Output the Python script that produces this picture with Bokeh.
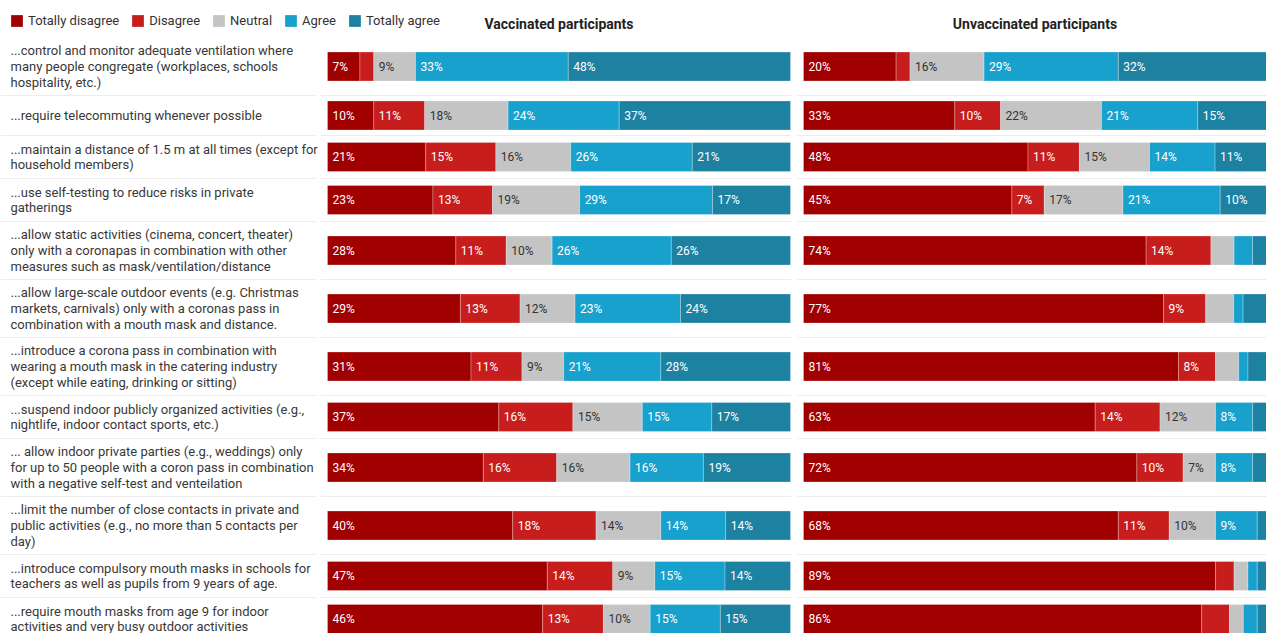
from bokeh.plotting import figure
from bokeh.models import ColumnDataSource, Range1d, Legend, LegendItem
from bokeh.core.properties import value
from bokeh.embed import file_html
from bokeh.resources import INLINE

# ---------------- data ----------------
labels = [
    "...control and monitor adequate ventilation where\nmany people congregate (workplaces, schools\nhospitality, etc.)",
    "...require telecommuting whenever possible",
    "...maintain a distance of 1.5 m at all times (except for\nhousehold members)",
    "...use self-testing to reduce risks in private\ngatherings",
    "...allow static activities (cinema, concert, theater)\nonly with a coronapas in combination with other\nmeasures such as mask/ventilation/distance",
    "...allow large-scale outdoor events (e.g. Christmas\nmarkets, carnivals) only with a coronas pass in\ncombination with a mouth mask and distance.",
    "...introduce a corona pass in combination with\nwearing a mouth mask in the catering industry\n(except while eating, drinking or sitting)",
    "...suspend indoor publicly organized activities (e.g.,\nnightlife, indoor contact sports, etc.)",
    "... allow indoor private parties (e.g., weddings) only\nfor up to 50 people with a coron pass in combination\nwith a negative self-test and venteilation",
    "...limit the number of close contacts in private and\npublic activities (e.g., no more than 5 contacts per\nday)",
    "...introduce compulsory mouth masks in schools for\nteachers as well as pupils from 9 years of age.",
    "...require mouth masks from age 9 for indoor\nactivities and very busy outdoor activities",
]
categories = ["Totally disagree", "Disagree", "Neutral", "Agree", "Totally agree"]
panels = ["Vaccinated participants", "Unvaccinated participants"]

vacc_totally_disagree = [7, 10, 21, 23, 28, 29, 31, 37, 34, 40, 47, 46]
vacc_disagree         = [3, 11, 15, 13, 11, 13, 11, 16, 16, 18, 14, 13]
vacc_neutral          = [9, 18, 16, 19, 10, 12, 9, 15, 16, 14, 9, 10]
vacc_agree            = [33, 24, 26, 29, 26, 23, 21, 15, 16, 14, 15, 15]
vacc_totally_agree    = [48, 37, 21, 17, 26, 24, 28, 17, 19, 14, 14, 15]

unvacc_totally_disagree = [20, 33, 48, 45, 74, 77, 81, 63, 72, 68, 89, 86]
unvacc_disagree         = [3, 10, 11, 7, 14, 9, 8, 14, 10, 11, 4, 6]
unvacc_neutral          = [16, 22, 15, 17, 5, 6, 5, 12, 7, 10, 3, 3]
unvacc_agree            = [29, 21, 14, 21, 4, 2, 2, 8, 8, 9, 2, 3]
unvacc_totally_agree    = [32, 15, 11, 10, 3, 5, 4, 3, 3, 2, 2, 2]

panel_values = [
    [vacc_totally_disagree, vacc_disagree, vacc_neutral, vacc_agree, vacc_totally_agree],
    [unvacc_totally_disagree, unvacc_disagree, unvacc_neutral, unvacc_agree, unvacc_totally_agree],
]

# ---------------- style / layout ----------------
colors = ["#a00000", "#c71e1d", "#c4c4c4", "#18a1cd", "#1d81a2"]
value_text_colors = ["#ffffff", "#ffffff", "#333333", "#ffffff", "#ffffff"]
FONT = "Roboto"
W, H = 1266, 633
LABEL_PX = 327
PANEL_PX = 463
GAP_PX = 13
BAR_H = 29
ROW_TOP = 37
MIN_LABEL_PCT = 7

ppu = PANEL_PX / 100.0
x_start = -LABEL_PX / ppu
x_end = (W - LABEL_PX) / ppu
panel_offset = (PANEL_PX + GAP_PX) / ppu

# row geometry from the number of label lines
n_lines = [lab.count("\n") + 1 for lab in labels]
row_h = [max(40, 15 * n + 13) for n in n_lines]
centers, bounds = [], []
top = ROW_TOP
for h in row_h:
    centers.append(top + h / 2.0)
    top += h
    bounds.append(top)
bounds = bounds[:-1]

p = figure(width=W, height=H, x_range=Range1d(x_start, x_end), y_range=Range1d(H, 0),
           output_backend="svg", toolbar_location=None, min_border=0,
           x_axis_location=None, y_axis_location=None)
p.grid.visible = False
p.outline_line_color = None
p.background_fill_color = "white"

# separators
for (xa, xb) in [(x_start, x_start + 316 / ppu),
                 (-6 / ppu, 100),
                 (panel_offset - 6 / ppu, panel_offset + 100)]:
    p.segment(x0=[xa] * len(bounds), x1=[xb] * len(bounds), y0=bounds, y1=bounds,
              line_color="#d9d9d9", line_width=1, line_dash="1 1")

# bars
renderers = []
txt = dict(x=[], y=[], text=[], color=[])
for ci, cat in enumerate(categories):
    d = dict(left=[], right=[], y=[])
    for pi in range(len(panels)):
        vals = panel_values[pi]
        for ri in range(len(labels)):
            total = sum(vals[k][ri] for k in range(len(categories)))
            before = sum(vals[k][ri] for k in range(ci))
            left = panel_offset * pi + before / total * 100
            right = panel_offset * pi + (before + vals[ci][ri]) / total * 100
            d["left"].append(left)
            d["right"].append(right)
            d["y"].append(centers[ri])
            if vals[ci][ri] >= MIN_LABEL_PCT:
                txt["x"].append(left)
                txt["y"].append(centers[ri])
                txt["text"].append(f"{vals[ci][ri]}%")
                txt["color"].append(value_text_colors[ci])
    r = p.hbar(y="y", left="left", right="right", height=BAR_H, source=ColumnDataSource(d),
               fill_color=colors[ci], line_color="white", line_alpha=0.25, line_width=1)
    renderers.append(r)

p.text(x="x", y="y", text="text", text_color="color", source=ColumnDataSource(txt),
       x_offset=5, text_align="left", text_baseline="middle",
       text_font=value(FONT), text_font_size="12px")

# row labels
p.text(x=[x_start + 10 / ppu] * len(labels), y=centers, text=labels,
       text_align="left", text_baseline="middle", text_color="#383838",
       text_font=value(FONT), text_font_size="13px", text_line_height=1.05)

# panel titles
p.text(x=[50 + panel_offset * i for i in range(len(panels))], y=[23] * len(panels), text=panels,
       text_align="center", text_baseline="middle", text_color="#222222",
       text_font=value(FONT), text_font_size="14px", text_font_style="bold")

legend = Legend(items=[LegendItem(label=c, renderers=[r]) for c, r in zip(categories, renderers)],
                orientation="horizontal", location=(9, H - 13 - 15),
                glyph_width=15, glyph_height=15, label_height=15, label_standoff=4,
                spacing=11, padding=0, margin=0, border_line_color=None,
                background_fill_alpha=0, label_text_font=FONT,
                label_text_font_size="13px", label_text_color="#333333")
p.add_layout(legend)

open("out.html", "w").write(file_html(p, INLINE))
